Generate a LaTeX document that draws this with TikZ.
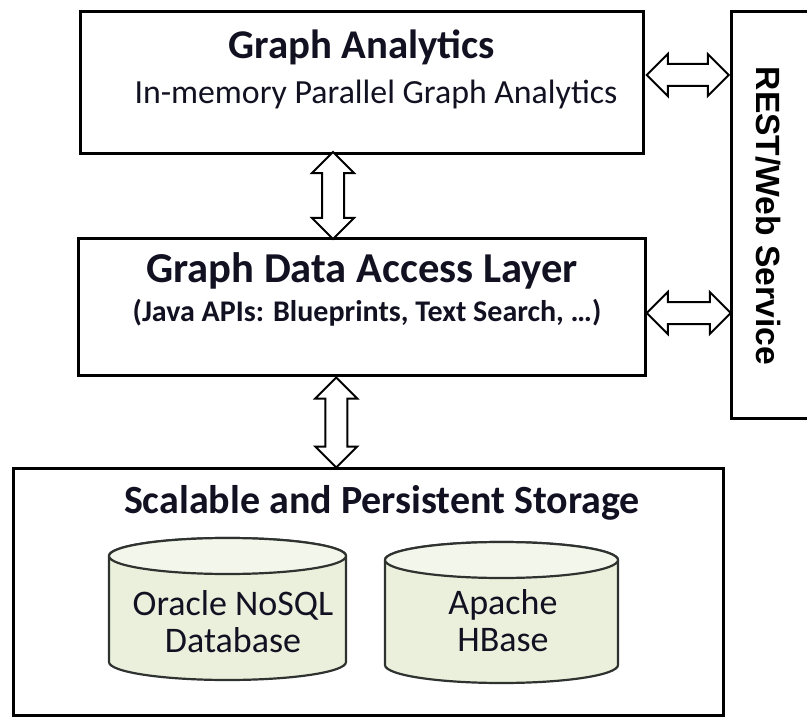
\documentclass[tikz,border=0pt]{standalone}
\usepackage{fontspec}
\setmainfont{Carlito}
\newfontfamily\restfont{Liberation Sans}
\usetikzlibrary{shapes.arrows,calc}
\definecolor{cylfill}{HTML}{EAF0DC}
\definecolor{cyltop}{HTML}{F2F6EB}
\definecolor{cyldraw}{HTML}{2F3330}
\definecolor{txt}{HTML}{111122}
\tikzset{
  box/.style={draw=black, line width=3pt, fill=white, inner sep=0pt},
  dblarrow/.style={double arrow, draw=black, line width=2pt, fill=white, inner sep=10pt,
    double arrow head extend=10pt, double arrow tip angle=90, anchor=center},
  title/.style={font=\bfseries\fontsize{40.8}{44}\selectfont, text=txt, inner sep=0pt},
  sub/.style={font=\fontsize{33.8}{38}\selectfont, text=txt, inner sep=0pt},
  subb/.style={font=\bfseries\fontsize{30}{32}\selectfont, text=txt, inner sep=0pt},
  cyltext/.style={font=\fontsize{36}{37}\selectfont, text=txt, align=center, inner sep=0pt},
  cylline/.style={draw=cyldraw, line width=2.2pt},
}
\begin{document}
\begin{tikzpicture}[x=1pt,y=1pt]
\useasboundingbox (0,0) rectangle (807,-717);
% boxes
\node[box, minimum width=563pt, minimum height=141pt] (ga) at (361.5,-82.5) {};
\node[box, minimum width=567pt, minimum height=137pt] (gdal) at (361.5,-306.5) {};
\node[box, minimum width=710pt, minimum height=247pt] (st) at (368,-591.5) {};
\coordinate (restTL) at (731,-12);
\coordinate (restBL) at (731,-418);
\draw[line width=3pt] (812,-12) -- (restTL) -- (restBL) -- (812,-418);
% texts
\node[title] (gat) at (362,-47) {Graph Analytics};
\node[sub] (gas) at (376,-94) {In-memory Parallel Graph Analytics};
\node[title, font=\bfseries\fontsize{42.6}{46}\selectfont] (gdt) at (362,-271) {Graph Data Access Layer};
\node[subb] (gds) at (367,-313) {(Java APIs: Blueprints, Text Search, …)};
\node[title, font=\bfseries\fontsize{40}{44}\selectfont] (stt) at (382,-503) {Scalable and Persistent Storage};
\node[font=\restfont\bfseries\fontsize{33.6}{35}\selectfont, rotate=-90, inner sep=0pt] (rest) at (768,-216) {REST/Web Service};
% cylinders
\path[fill=cylfill, cylline] (109,-556) -- (109,-662) arc[start angle=180, end angle=360, x radius=118.5, y radius=18] -- (346,-556) arc[start angle=0, end angle=180, x radius=118.5, y radius=18] -- cycle;
\path[fill=cyltop, cylline] (227.5,-556) ellipse[x radius=118.5, y radius=18];
\path[fill=cylfill, cylline] (385,-560) -- (385,-665) arc[start angle=180, end angle=360, x radius=116.5, y radius=18] -- (618,-560) arc[start angle=0, end angle=180, x radius=116.5, y radius=18] -- cycle;
\path[fill=cyltop, cylline] (501.5,-560) ellipse[x radius=116.5, y radius=18];
\node[cyltext] (db1) at (233,-622) {Oracle NoSQL\\Database};
\node[cyltext] (db2) at (503,-621) {Apache\\HBase};
% arrows
\node[dblarrow, rotate=90, minimum height=87pt] (v1) at ($(ga.south)!0.5!(gdal.north)+(-28.5,0)$) {};
\node[dblarrow, rotate=90, minimum height=90pt] (v2) at ($(gdal.south)!0.5!(st.north)+(-28.5,-1)$) {};
\node[dblarrow, minimum height=82pt] (h1) at ($(ga.east)!0.5!(ga.east -| restTL)+(0,7.5)$) {};
\node[dblarrow, minimum height=84pt] (h2) at ($(gdal.east)!0.5!(gdal.east -| restTL)+(0,-6.5)$) {};
\end{tikzpicture}
\end{document}
